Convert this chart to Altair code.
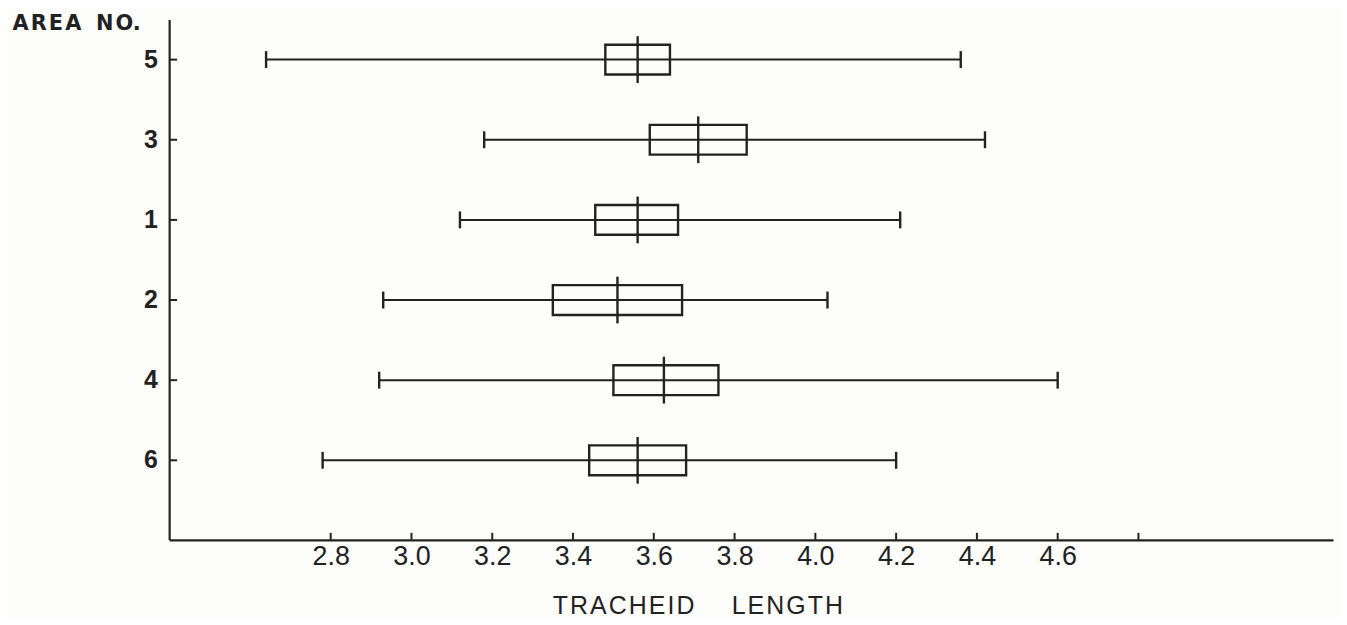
import altair as alt
import pandas as pd

# ---- data ----
areas = ["5", "3", "1", "2", "4", "6"]
whisker_low = [2.64, 3.18, 3.12, 2.93, 2.92, 2.78]
box_q1 = [3.48, 3.59, 3.455, 3.35, 3.50, 3.44]
median = [3.56, 3.71, 3.56, 3.51, 3.625, 3.56]
box_q3 = [3.64, 3.83, 3.66, 3.67, 3.76, 3.68]
whisker_high = [4.36, 4.42, 4.21, 4.03, 4.60, 4.20]

x_label_values = [2.8, 3.0, 3.2, 3.4, 3.6, 3.8, 4.0, 4.2, 4.4, 4.6]
x_tick_values = [2.8, 3.0, 3.2, 3.4, 3.6, 3.8, 4.0, 4.2, 4.4, 4.6, 4.8]

x_title = "\u200aT\u200aR\u200aA\u200aC\u200aH\u200aE\u200aI\u200aD\u2003\u2002L\u200aE\u200aN\u200aG\u200aT\u200aH"
y_title = "A\u200aR\u200aE\u200aA\u00a0\u00a0N\u200aO."

df = pd.DataFrame({
    "area": areas,
    "lo": whisker_low,
    "q1": box_q1,
    "med": median,
    "q3": box_q3,
    "hi": whisker_high,
})
ticks_df = pd.DataFrame({"t": x_tick_values})

W, H = 1170, 523
INK = "#222222"

xscale = alt.Scale(domain=[2.4, 2.4 + W / 406.0], nice=False, zero=False)
yscale = alt.Scale(domain=areas, paddingInner=0, paddingOuter=0.246, align=0)

xaxis = alt.Axis(
    values=x_label_values, format=".1f", grid=False, ticks=False, tickSize=0,
    domainColor=INK, domainWidth=2.2,
    labelFont="Liberation Sans", labelFontSize=27, labelColor=INK,
    labelBaseline="alphabetic", labelPadding=25,
    title=x_title, titleFont="Liberation Sans", titleFontSize=25,
    titleFontWeight="normal", titleColor=INK,
    titleX=531, titleY=74, titleBaseline="alphabetic", titleAlign="center",
)
yaxis = alt.Axis(
    grid=False, ticks=False, tickSize=0,
    domainColor=INK, domainWidth=2.2,
    labelFont="Liberation Sans", labelFontSize=25, labelFontWeight="bold",
    labelColor=INK, labelPadding=12, labelAngle=0,
    title=y_title, titleFont="DejaVu Sans", titleFontSize=21,
    titleFontWeight="bold", titleColor=INK, titleAngle=0,
    titleX=-158, titleY=10, titleAlign="left", titleBaseline="alphabetic",
)

base = alt.Chart(df)

whiskers = base.mark_rule(color=INK, strokeWidth=2).encode(
    x=alt.X("lo:Q", scale=xscale, axis=xaxis),
    x2="hi:Q",
    y=alt.Y("area:N", scale=yscale, axis=yaxis, sort=areas),
)
boxes = base.mark_bar(filled=False, stroke=INK, strokeWidth=2.4, size=30, opacity=1).encode(
    x=alt.X("q1:Q", scale=xscale),
    x2="q3:Q",
    y=alt.Y("area:N", scale=yscale, sort=areas),
)
medians = base.mark_tick(color=INK, size=47, thickness=2.4, opacity=1).encode(
    x=alt.X("med:Q", scale=xscale),
    y=alt.Y("area:N", scale=yscale, sort=areas),
)
cap_lo = base.mark_tick(color=INK, size=17, thickness=2.4, opacity=1).encode(
    x=alt.X("lo:Q", scale=xscale),
    y=alt.Y("area:N", scale=yscale, sort=areas),
)
cap_hi = base.mark_tick(color=INK, size=17, thickness=2.4, opacity=1).encode(
    x=alt.X("hi:Q", scale=xscale),
    y=alt.Y("area:N", scale=yscale, sort=areas),
)
y_ticks = base.mark_rule(color=INK, strokeWidth=2).encode(
    y=alt.Y("area:N", scale=yscale, sort=areas),
    x=alt.value(0),
    x2=alt.value(8),
)
x_ticks = alt.Chart(ticks_df).mark_rule(color=INK, strokeWidth=2).encode(
    x=alt.X("t:Q", scale=xscale),
    y=alt.value(H),
    y2=alt.value(H - 7),
)

chart = alt.layer(whiskers, boxes, medians, cap_lo, cap_hi, y_ticks, x_ticks).properties(
    width=W,
    height=H,
    autosize=alt.AutoSizeParams(type="none"),
    padding={"left": 162, "top": 10, "right": 6, "bottom": 78},
    background="#fdfdfb",
).configure_view(stroke=None)

chart.save("out.html", embed_options={"renderer": "svg", "actions": False})
